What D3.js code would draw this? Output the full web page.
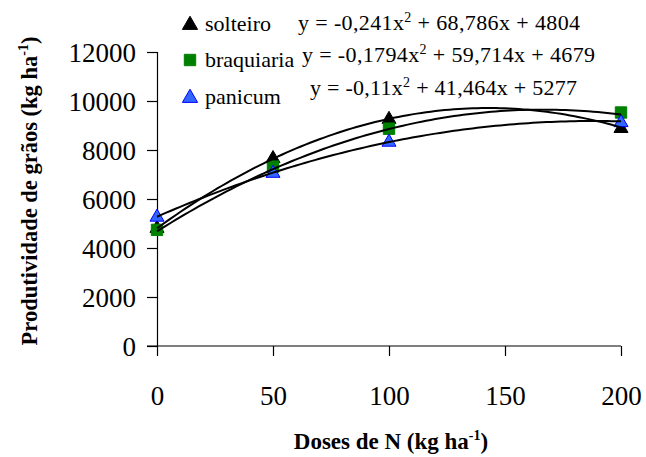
<!DOCTYPE html>
<html>
<head>
<meta charset="utf-8">
<script src="https://cdn.jsdelivr.net/npm/d3@7"></script>
<style>
  html, body { margin: 0; padding: 0; background: #fff; }
  svg { display: block; }
</style>
</head>
<body>
<svg id="chart" width="646" height="457"></svg>
<script>
// Nitrogen doses (kg/ha) and grain yield (kg/ha) per cropping system
const doses = [0, 50, 100, 200];
const solteiro = [4800, 7650, 9250, 8880];
const braquiaria = [4740, 7320, 8870, 9530];
const panicum = [5260, 7050, 8320, 9120];

// Quadratic trendline coefficients: [c, b, a] for y = a x^2 + b x + c
const coefSolteiro = [4804, 68.786, -0.241];
const coefBraquiaria = [4679, 59.714, -0.1794];
const coefPanicum = [5277, 41.464, -0.11];

const seriesNames = ["solteiro", "braquiaria", "panicum"];
const equationParts = [
  ["y = -0,241x", " + 68,786x + 4804"],
  ["y = -0,1794x", " + 59,714x + 4679"],
  ["y = -0,11x", " + 41,464x + 5277"]
];
const xTicks = [0, 50, 100, 150, 200];
const yTicks = [0, 2000, 4000, 6000, 8000, 10000, 12000];

const SERIF = "'Liberation Serif', 'Times New Roman', Times, serif";

const svg = d3.select("#chart");
const x = d3.scaleLinear().domain([0, 200]).range([157, 621]);
const y = d3.scaleLinear().domain([0, 12000]).range([346, 52]);

// Axes
const yAxis = d3.axisLeft(y).tickValues(yTicks).tickSize(10).tickPadding(11).tickFormat(d3.format("d"));
const xAxis = d3.axisBottom(x).tickValues(xTicks).tickSize(10).tickPadding(30).tickFormat(d3.format("d"));

const gy = svg.append("g").attr("transform", `translate(${x(0)},0)`).call(yAxis);
const gx = svg.append("g").attr("transform", `translate(0,${y(0)})`).call(xAxis);
[gx, gy].forEach(g => {
  g.select(".domain").attr("stroke", "#000").attr("stroke-width", 1.2);
  g.selectAll(".tick line").attr("stroke", "#000").attr("stroke-width", 1.2);
  g.selectAll(".tick text")
    .style("font-family", SERIF)
    .style("font-size", "27px")
    .attr("fill", "#000");
});
gy.selectAll(".tick text").attr("dy", "0.34em");
gx.select(".domain").attr("d", `M${x(0) - 10},0H${x(200)}`);

// Axis titles
const yTitle = svg.append("text")
  .attr("transform", `translate(37,${191}) rotate(-90)`)
  .attr("text-anchor", "middle")
  .style("font-family", SERIF)
  .style("font-weight", "bold")
  .style("font-size", "22.5px");
yTitle.append("tspan").text("Produtividade de grãos (kg ha");
yTitle.append("tspan").style("font-size", "14px").attr("dy", -9).text("-1");
yTitle.append("tspan").attr("dy", 9).text(")");

const xTitle = svg.append("text")
  .attr("x", 391).attr("y", 449)
  .attr("text-anchor", "middle")
  .style("font-family", SERIF)
  .style("font-weight", "bold")
  .style("font-size", "23px");
xTitle.append("tspan").text("Doses de N (kg ha");
xTitle.append("tspan").style("font-size", "14px").attr("dy", -9).text("-1");
xTitle.append("tspan").attr("dy", 9).text(")");

// Markers
const tri = d3.symbol().type(d3.symbolTriangle).size(85);
const sq = d3.symbol().type(d3.symbolSquare).size(130);

const series = [
  { name: "solteiro", values: solteiro, coef: coefSolteiro, shape: tri, fill: "#000", stroke: "#000" },
  { name: "braquiaria", values: braquiaria, coef: coefBraquiaria, shape: sq, fill: "#008000", stroke: "#008000" },
  { name: "panicum", values: panicum, coef: coefPanicum, shape: tri, fill: "#3366ff", stroke: "#0000ff" }
];

series.forEach(s => {
  svg.append("g").selectAll("path")
    .data(doses.map((d, i) => [d, s.values[i]]))
    .join("path")
    .attr("d", s.shape)
    .attr("transform", d => `translate(${x(d[0])},${y(d[1])})`)
    .attr("fill", s.fill)
    .attr("stroke", s.stroke)
    .attr("stroke-width", 1);
});

// Quadratic trendlines
const line = d3.line().x(d => x(d[0])).y(d => y(d[1]));
const xs = d3.range(0, 201, 2);
series.forEach(s => {
  const pts = xs.map(v => [v, s.coef[0] + s.coef[1] * v + s.coef[2] * v * v]);
  svg.append("path")
    .attr("d", line(pts))
    .attr("fill", "none")
    .attr("stroke", "#000")
    .attr("stroke-width", 2);
});

// Legend
const legendRows = [
  { cy: 25, base: 31 },
  { cy: 60, base: 67 },
  { cy: 98, base: 104 }
];
const legendTri = d3.symbol().type(d3.symbolTriangle).size(100);
series.forEach((s, i) => {
  svg.append("path")
    .attr("d", s.shape === tri ? legendTri : s.shape)
    .attr("transform", `translate(190,${legendRows[i].cy})`)
    .attr("fill", s.fill)
    .attr("stroke", s.stroke);
  svg.append("text")
    .attr("x", 205).attr("y", legendRows[i].base)
    .style("font-family", SERIF)
    .style("font-size", "22px")
    .text(seriesNames[i]);
});

// Trendline equations
const eqPos = [
  { x: 298, base: 30, w: 282 },
  { x: 302, base: 62, w: 293 },
  { x: 310, base: 95, w: 267 }
];
equationParts.forEach((p, i) => {
  const t = svg.append("text")
    .attr("x", eqPos[i].x).attr("y", eqPos[i].base)
    .style("font-family", SERIF)
    .style("font-size", "22px")
    .attr("textLength", eqPos[i].w)
    .attr("lengthAdjust", "spacing");
  t.append("tspan").text(p[0]);
  t.append("tspan").style("font-size", "14px").attr("dy", -8).text("2");
  t.append("tspan").attr("dy", 8).text(p[1]);
});
</script>
</body>
</html>
